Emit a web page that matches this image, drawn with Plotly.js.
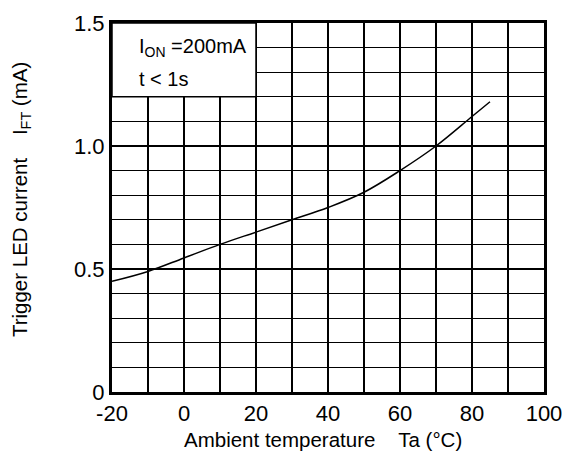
<!DOCTYPE html>
<html><head><meta charset="utf-8">
<script src="https://cdn.plot.ly/plotly-3.0.1.min.js"></script>
<style>body{margin:0;background:#fff}#c{width:567px;height:452px}</style>
</head><body><div id="c"></div>
<script>
const temperature = [-20, -10, 0, 10, 20, 30, 40, 50, 60, 70, 80, 85];
const triggerCurrent = [0.45, 0.49, 0.545, 0.60, 0.65, 0.70, 0.75, 0.812, 0.90, 1.00, 1.12, 1.18];
const xTicks = [-20, 0, 20, 40, 60, 80, 100];
const xTickText = ['-20', '0', '20', '40', '60', '80', '100'];
const yTicks = [0, 0.5, 1.0, 1.5];
const yTickText = ['0', '0.5', '1.0', '1.5'];
const noteLines = ['I<sub>ON</sub> =200mA', 't &lt; 1s'];
const xTitle = 'Ambient temperature\u00a0\u00a0\u00a0\u00a0Ta (°C)';
const yTitle = 'Trigger LED current\u00a0\u00a0\u00a0\u00a0I<sub>FT</sub> (mA)';

const font = 'Liberation Sans, Arial, sans-serif';
const trace = {
  x: temperature, y: triggerCurrent, type: 'scatter', mode: 'lines',
  line: {color: '#000', width: 1.5, shape: 'spline', smoothing: 1},
  hoverinfo: 'skip'
};
const layout = {
  width: 567, height: 452,
  margin: {l: 112, r: 23, t: 23, b: 60},
  paper_bgcolor: '#fff', plot_bgcolor: '#fff',
  showlegend: false,
  font: {family: font, color: '#000', size: 20},
  xaxis: {
    range: [-20, 100], tickvals: xTicks, ticktext: xTickText, ticks: '', showgrid: true,
    gridcolor: '#000', gridwidth: 1.2,
    minor: {dtick: 10, tick0: -20, showgrid: true, gridcolor: '#000', gridwidth: 1.2},
    showline: true, linecolor: '#000', linewidth: 3, mirror: true,
    zeroline: false, tickfont: {size: 22, family: font}
  },
  yaxis: {
    range: [0, 1.5], tickvals: yTicks, ticktext: yTickText, ticks: '', showgrid: true,
    gridcolor: '#000', gridwidth: 1.2,
    minor: {dtick: 0.1, tick0: 0, showgrid: true, gridcolor: '#000', gridwidth: 1.2},
    showline: true, linecolor: '#000', linewidth: 3, mirror: true,
    zeroline: false, tickfont: {size: 22, family: font}
  },
  shapes: [{
    type: 'rect', xref: 'x', yref: 'y', x0: -20, x1: 20, y0: 1.2, y1: 1.5,
    fillcolor: '#fff', line: {color: '#000', width: 1.5}, layer: 'above'
  }],
  annotations: [
    {xref: 'x', yref: 'y', x: -13.1, y: 1.40, xanchor: 'left', yanchor: 'middle', text: noteLines[0], showarrow: false, font: {size: 20, family: font}},
    {xref: 'x', yref: 'y', x: -13.1, y: 1.272, xanchor: 'left', yanchor: 'middle', text: noteLines[1], showarrow: false, font: {size: 20, family: font}},
    {xref: 'paper', yref: 'paper', x: 0.5, y: -0.128, xshift: -5, xanchor: 'center', yanchor: 'middle', text: xTitle, showarrow: false, font: {size: 20.5, family: font}},
    {xref: 'paper', yref: 'paper', x: 0, y: 0.52, xshift: -91, xanchor: 'center', yanchor: 'middle', textangle: -90, text: yTitle, showarrow: false, font: {size: 20.5, family: font}}
  ]
};
Plotly.newPlot('c', [trace], layout, {staticPlot: true});
</script></body></html>
